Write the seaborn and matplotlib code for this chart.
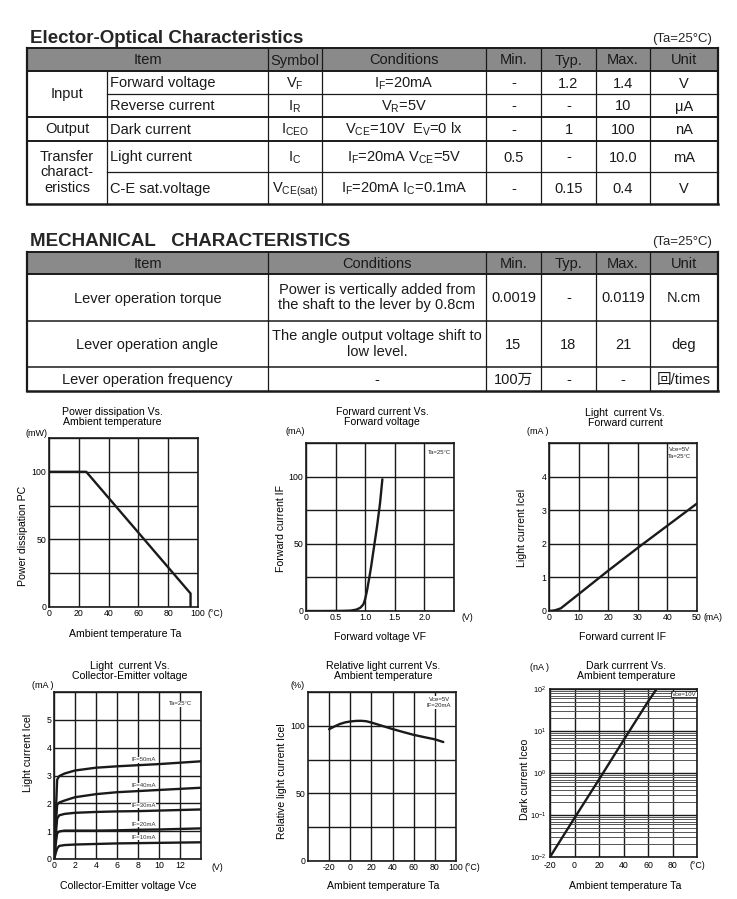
import numpy as np
import pandas as pd
import matplotlib
matplotlib.use('Agg')
import matplotlib.pyplot as plt
from matplotlib import font_manager as fm
from matplotlib.patches import Rectangle
from matplotlib.ticker import LogLocator, NullFormatter
import seaborn as sns

# ---------------- table data ----------------
eo_title = 'Elector-Optical Characteristics'
mech_title = 'MECHANICAL   CHARACTERISTICS'
ta_note = '(Ta=25°C)'

eo_header = ['Item', 'Symbol', 'Conditions', 'Min.', 'Typ.', 'Max.', 'Unit']
eo_groups = ['Input', 'Output', 'Transfer\ncharact-\neristics']
eo_group_rows = [(0, 2), (2, 3), (3, 5)]
eo_items = ['Forward voltage', 'Reverse current', 'Dark current', 'Light current', 'C-E sat.voltage']
eo_symbols = [r'V$_\mathrm{F}$', r'I$_\mathrm{R}$', r'I$_\mathrm{CEO}$', r'I$_\mathrm{C}$', r'V$_\mathrm{CE(sat)}$']
eo_conditions = [r'I$_\mathrm{F}$=20mA', r'V$_\mathrm{R}$=5V', r'V$_\mathrm{CE}$=10V  E$_\mathrm{V}$=0 lx',
                 r'I$_\mathrm{F}$=20mA V$_\mathrm{CE}$=5V', r'I$_\mathrm{F}$=20mA I$_\mathrm{C}$=0.1mA']
eo_min = ['-', '-', '-', '0.5', '-']
eo_typ = ['1.2', '-', '1', '-', '0.15']
eo_max = ['1.4', '10', '100', '10.0', '0.4']
eo_unit = ['V', 'μA', 'nA', 'mA', 'V']

mech_header = ['Item', 'Conditions', 'Min.', 'Typ.', 'Max.', 'Unit']
mech_items = ['Lever operation torque', 'Lever operation angle', 'Lever operation frequency']
mech_conditions = ['Power is vertically added from\nthe shaft to the lever by 0.8cm',
                   'The angle output voltage shift to\nlow level.', '-']
mech_min = ['0.0019', '15', '100万']
mech_typ = ['-', '18', '-']
mech_max = ['0.0119', '21', '-']
mech_unit = ['N.cm', 'deg', '回/times']

# ---------------- chart data ----------------
# 1 Power dissipation vs ambient temperature
pd_ta = [0, 25, 95, 95]
pd_pc = [100, 100, 10, 0]
pd_xticks = [0, 20, 40, 60, 80, 100]
pd_xlabels = ['0', '20', '40', '60', '80', '100']
pd_yticks = [0, 25, 50, 75, 100, 125]
pd_ylabels = ['0', '', '50', '', '100', '']

# 2 Forward current vs forward voltage
fv_vf = [0, 0.3, 0.6, 0.75, 0.85, 0.92, 0.97, 1.0, 1.03, 1.07, 1.1, 1.15, 1.2, 1.25, 1.29]
fv_if = [0, 0, 0.1, 0.3, 1.0, 2.5, 5, 9, 15, 25, 33, 48, 63, 80, 98]
fv_xticks = [0, 0.5, 1.0, 1.5, 2.0, 2.5]
fv_xlabels = ['0', '0.5', '1.0', '1.5', '2.0', '']
fv_yticks = [0, 25, 50, 75, 100, 125]
fv_ylabels = ['0', '', '50', '', '100', '']

# 3 Light current vs forward current
lf_if = [0, 2, 4, 10, 20, 30, 40, 50]
lf_ic = [0, 0.02, 0.08, 0.5, 1.2, 1.88, 2.54, 3.2]
lf_xticks = [0, 10, 20, 30, 40, 50]
lf_xlabels = ['0', '10', '20', '30', '40', '50']
lf_yticks = [0, 1, 2, 3, 4, 5]
lf_ylabels = ['0', '1', '2', '3', '4', '']

# 4 Light current vs collector-emitter voltage
vce_v = [0, 0.1, 0.2, 0.3, 0.5, 1, 2, 4, 6, 8, 10, 12, 14]
ic_if10 = [0, 0.12, 0.26, 0.38, 0.47, 0.5, 0.52, 0.54, 0.56, 0.57, 0.58, 0.59, 0.6]
ic_if20 = [0, 0.3, 0.65, 0.92, 0.99, 1.02, 1.02, 1.02, 1.03, 1.05, 1.06, 1.08, 1.1]
ic_if30 = [0, 0.45, 1.0, 1.45, 1.57, 1.62, 1.66, 1.69, 1.71, 1.72, 1.74, 1.76, 1.78]
ic_if40 = [0, 0.6, 1.4, 1.95, 2.03, 2.1, 2.22, 2.33, 2.4, 2.44, 2.48, 2.52, 2.56]
ic_if50 = [0, 0.8, 1.9, 2.85, 2.98, 3.07, 3.18, 3.28, 3.33, 3.37, 3.41, 3.46, 3.51]
if_labels = ['IF=10mA', 'IF=20mA', 'IF=30mA', 'IF=40mA', 'IF=50mA']
vc_xticks = [0, 2, 4, 6, 8, 10, 12, 14]
vc_xlabels = ['0', '2', '4', '6', '8', '10', '12', '']
vc_yticks = [0, 1, 2, 3, 4, 5, 6]
vc_ylabels = ['0', '1', '2', '3', '4', '5', '']

# 5 Relative light current vs ambient temperature
rt_ta = [-20, -15, -10, -5, 0, 5, 10, 15, 20, 30, 40, 50, 60, 70, 80, 88]
rt_rel = [97.5, 99.5, 101.3, 102.5, 103.2, 103.6, 103.7, 103.4, 102.4, 100, 97.6, 95.4, 93.3, 91.6, 90, 88]
rt_xticks = [-20, 0, 20, 40, 60, 80, 100]
rt_xlabels = ['-20', '0', '20', '40', '60', '80', '100']
rt_yticks = [0, 25, 50, 75, 100, 125]
rt_ylabels = ['0', '', '50', '', '100', '']

# 6 Dark current vs ambient temperature
dk_ta = [-20, 0, 20, 40, 60, 67]
dk_iceo = [0.01, 0.085, 0.7, 6.0, 50, 100]
dk_xticks = [-20, 0, 20, 40, 60, 80, 100]
dk_xlabels = ['-20', '0', '20', '40', '60', '80', '(°C)']
dk_yticks = [0.01, 0.1, 1, 10, 100]
dk_ylabels = [r'$\mathrm{10^{-2}}$', r'$\mathrm{10^{-1}}$', r'$\mathrm{10^{0}}$', r'$\mathrm{10^{1}}$', r'$\mathrm{10^{2}}$']

# ---------------- style ----------------
sns.set_theme(style='white')
names = {f.name for f in fm.fontManager.ttflist}
HAS_NARROW = 'Liberation Sans Narrow' in names
NARROW = 'Liberation Sans Narrow' if HAS_NARROW else 'Liberation Sans'
K = 1.0 if HAS_NARROW else 0.84
plt.rcParams['font.family'] = ['Liberation Sans', 'Noto Sans CJK SC', 'DejaVu Sans']
plt.rcParams['mathtext.fontset'] = 'custom'
plt.rcParams['mathtext.rm'] = 'Liberation Sans'
plt.rcParams['mathtext.it'] = 'Liberation Sans:italic'
plt.rcParams['mathtext.bf'] = 'Liberation Sans:bold'
plt.rcParams['mathtext.sf'] = 'Liberation Sans'
NF = [NARROW, 'DejaVu Sans']

W, H = 737, 899
fig = plt.figure(figsize=(W / 100, H / 100), dpi=100)
bg = fig.add_axes([0, 0, 1, 1])
bg.set_xlim(0, W)
bg.set_ylim(H, 0)
bg.axis('off')

HDR = '#8a8a8a'
TAB = 10.5


def hl(y, x0, x1, lw=0.9):
    bg.plot([x0, x1], [y, y], color='k', lw=lw, solid_capstyle='projecting', zorder=3)


def vl(x, y0, y1, lw=0.9):
    bg.plot([x, x], [y0, y1], color='k', lw=lw, solid_capstyle='projecting', zorder=3)


def ct(x, y, s, ha='center', size=TAB, multi=False):
    if multi:
        bg.text(x, y, s, ha=ha, va='center', fontsize=size, color='k', linespacing=1.15, zorder=4)
    else:
        bg.text(x, y + 5, s, ha=ha, va='baseline', fontsize=size, color='k', zorder=4)


# ---------- table 1 ----------
bg.text(30, 43, eo_title, fontsize=13.5, fontweight='bold', va='baseline', ha='left')
bg.text(712, 42, ta_note, fontsize=9.5, va='baseline', ha='right')
cx = [27, 107, 268, 322, 486, 541, 596, 650, 718]
ry = [48, 71, 94, 117, 141, 172, 204]
bg.add_patch(Rectangle((cx[0], ry[0]), cx[-1] - cx[0], ry[1] - ry[0], fc=HDR, ec='none', zorder=1))
ct((cx[0] + cx[2]) / 2, (ry[0] + ry[1]) / 2, eo_header[0])
for i, h in enumerate(eo_header[1:]):
    ct((cx[i + 2] + cx[i + 3]) / 2, (ry[0] + ry[1]) / 2, h)
for r in range(5):
    yc = (ry[r + 1] + ry[r + 2]) / 2
    ct(cx[1] + 3, yc, eo_items[r], ha='left')
    vals = [eo_symbols[r], eo_conditions[r], eo_min[r], eo_typ[r], eo_max[r], eo_unit[r]]
    for j, v in enumerate(vals):
        ct((cx[j + 2] + cx[j + 3]) / 2, yc, v)
for g, (a, b) in zip(eo_groups, eo_group_rows):
    ct((cx[0] + cx[1]) / 2, (ry[a + 1] + ry[b + 1]) / 2, g, multi=True)
# lines
hl(ry[0], cx[0], cx[-1], 1.4)
hl(ry[1], cx[0], cx[-1], 1.4)
hl(ry[2], cx[1], cx[-1])
hl(ry[3], cx[0], cx[-1], 1.4)
hl(ry[4], cx[0], cx[-1], 1.4)
hl(ry[5], cx[1], cx[-1])
hl(ry[6], cx[0], cx[-1], 1.8)
vl(cx[0], ry[0], ry[-1], 1.6)
vl(cx[-1], ry[0], ry[-1], 1.6)
vl(cx[1], ry[1], ry[-1])
for x in cx[2:-1]:
    vl(x, ry[0], ry[-1])

# ---------- table 2 ----------
bg.text(30, 246.5, mech_title, fontsize=13.5, fontweight='bold', va='baseline', ha='left')
bg.text(712, 245, ta_note, fontsize=9.5, va='baseline', ha='right')
mx = [27, 268, 486, 541, 596, 650, 718]
my = [252, 274, 321, 367, 391]
bg.add_patch(Rectangle((mx[0], my[0]), mx[-1] - mx[0], my[1] - my[0], fc=HDR, ec='none', zorder=1))
for i, h in enumerate(mech_header):
    ct((mx[i] + mx[i + 1]) / 2, (my[0] + my[1]) / 2, h)
for r in range(3):
    yc = (my[r + 1] + my[r + 2]) / 2
    vals = [mech_items[r], mech_conditions[r], mech_min[r], mech_typ[r], mech_max[r], mech_unit[r]]
    for j, v in enumerate(vals):
        ct((mx[j] + mx[j + 1]) / 2, yc, v, multi=('\n' in v))
hl(my[0], mx[0], mx[-1], 1.4)
hl(my[1], mx[0], mx[-1], 1.4)
hl(my[2], mx[0], mx[-1], 1.1)
hl(my[3], mx[0], mx[-1], 1.1)
hl(my[4], mx[0], mx[-1], 1.8)
vl(mx[0], my[0], my[-1], 1.6)
vl(mx[-1], my[0], my[-1], 1.6)
for x in mx[1:-1]:
    vl(x, my[0], my[-1])

# ---------------- charts ----------------
TICK = 7.5 * K
LAB = 9 * K
TIT = 9 * K
SMALL = 5.2 * K
UNIT = 6.5
TXT = '#000'


def add_ax(l, t, r, b):
    return fig.add_axes([l / W, 1 - b / H, (r - l) / W, (b - t) / H])


def style(ax, xlim, ylim, xt, xtl, yt, ytl, pad=1.8):
    ax.set_facecolor('white')
    ax.set_xlim(*xlim)
    ax.set_ylim(*ylim)
    ax.set_xticks(xt)
    ax.set_xticklabels(xtl, fontfamily=NF, fontsize=TICK, color=TXT)
    ax.set_yticks(yt)
    ax.set_yticklabels(ytl, fontfamily=NF, fontsize=TICK, color=TXT)
    ax.grid(True, which='major', color='k', lw=1.0)
    ax.tick_params(which='both', length=0, pad=pad)
    for s in ax.spines.values():
        s.set_visible(True)
        s.set_color('k')
        s.set_linewidth(1.2)
    ax.set_xlabel('')
    ax.set_ylabel('')
    ax.set_axisbelow(True)


def ptext(x, y, s, size, rot=0, ha='center', ls=1.1):
    bg.text(x, y, s, fontsize=size, fontfamily=NF, rotation=rot, ha=ha, va='center',
            linespacing=ls, color=TXT)


LINE = dict(color='k', linewidth=1.7, estimator=None, sort=False)

# chart 1
ax1 = add_ax(49, 438, 198, 607)
sns.lineplot(x=pd_ta, y=pd_pc, ax=ax1, **LINE)
style(ax1, (0, 100), (0, 125), pd_xticks, pd_xlabels, pd_yticks, pd_ylabels)
ptext(112, 417, 'Power dissipation Vs.\nAmbient temperature', TIT)
ptext(37, 433, '(mW)', UNIT)
ptext(215, 613, '(°C)', TICK)
ptext(23, 536, 'Power dissipation PC', LAB, rot=90)
ptext(125, 634, 'Ambient temperature Ta', LAB)

# chart 2
ax2 = add_ax(306, 443, 454, 611)
sns.lineplot(x=fv_vf, y=fv_if, ax=ax2, **LINE)
style(ax2, (0, 2.5), (0, 125), fv_xticks, fv_xlabels, fv_yticks, fv_ylabels)
ax2.text(0.905, 0.946, 'Ta=25°C', transform=ax2.transAxes, fontsize=SMALL, fontfamily=NF,
         ha='center', va='center', color='#222')
ptext(382, 417, 'Forward current Vs.\nForward voltage', TIT)
ptext(295, 432, '(mA)', UNIT)
ptext(467, 617, '(V)', TICK)
ptext(281, 528, 'Forward current IF', LAB, rot=90)
ptext(380, 637, 'Forward voltage VF', LAB)

# chart 3
ax3 = add_ax(549, 443, 697, 611)
sns.lineplot(x=lf_if, y=lf_ic, ax=ax3, **LINE)
style(ax3, (0, 50), (0, 5), lf_xticks, lf_xlabels, lf_yticks, lf_ylabels)
ax3.text(0.885, 0.94, 'Vce=5V\nTa=25°C', transform=ax3.transAxes, fontsize=SMALL, fontfamily=NF,
         ha='center', va='center', color='#222', linespacing=1.3)
ptext(625, 418, 'Light  current Vs.\nForward current', TIT)
ptext(538, 432, '(mA )', UNIT)
ptext(713, 617, '(mA)', TICK)
ptext(522, 528, 'Light current Icel', LAB, rot=90)
ptext(623, 637, 'Forward current IF', LAB)

# chart 4
ax4 = add_ax(54, 692, 201, 859)
curves = [ic_if10, ic_if20, ic_if30, ic_if40, ic_if50]
df4 = pd.DataFrame({
    'Vce': np.tile(vce_v, len(curves)),
    'Ic': np.concatenate(curves),
    'IF': np.repeat(if_labels, len(vce_v)),
})
sns.lineplot(data=df4, x='Vce', y='Ic', hue='IF', palette=['k'] * len(curves), legend=False,
             ax=ax4, linewidth=1.7, estimator=None, sort=False)
style(ax4, (0, 14), (0, 6), vc_xticks, vc_xlabels, vc_yticks, vc_ylabels)
for lab, c in zip(if_labels, curves):
    ax4.text(8.5, c[vce_v.index(8)] + 0.2, lab, fontsize=SMALL, fontfamily=NF, ha='center',
             va='center', color='#333',
             bbox=dict(fc='white', ec='none', pad=0.3))
ax4.text(12, 5.57, 'Ta=25°C', fontsize=SMALL, fontfamily=NF, ha='center', va='center', color='#222',
         bbox=dict(fc='white', ec='none', pad=0.6))
ptext(130, 671, 'Light  current Vs.\nCollector-Emitter voltage', TIT)
ptext(43, 686, '(mA )', UNIT)
ptext(217, 867, '(V)', TICK)
ptext(28, 753, 'Light current Icel', LAB, rot=90)
ptext(128, 886, 'Collector-Emitter voltage Vce', LAB)

# chart 5
ax5 = add_ax(308, 692, 456, 861)
sns.lineplot(x=rt_ta, y=rt_rel, ax=ax5, **LINE)
style(ax5, (-40, 100), (0, 125), rt_xticks, rt_xlabels, rt_yticks, rt_ylabels)
ax5.text(84, 117, 'Vce=5V\nIF=20mA', fontsize=SMALL, fontfamily=NF, ha='center', va='center',
         color='#222', linespacing=1.3, bbox=dict(fc='white', ec='none', pad=0.6))
ptext(383, 671, 'Relative light current Vs.\nAmbient temperature', TIT)
ptext(298, 686, '(%)', UNIT)
ptext(472, 867, '(°C)', TICK)
ptext(282, 781, 'Relative light current Icel', LAB, rot=90)
ptext(383, 886, 'Ambient temperature Ta', LAB)

# chart 6
ax6 = add_ax(550, 689, 697, 857)
ax6.set_yscale('log')
sns.lineplot(x=dk_ta, y=dk_iceo, ax=ax6, **LINE)
style(ax6, (-20, 100), (0.01, 100), dk_xticks, dk_xlabels, dk_yticks, dk_ylabels, pad=3)
ax6.set_yticklabels(dk_ylabels, fontsize=TICK * 0.85, color=TXT)
ax6.yaxis.set_minor_locator(LogLocator(base=10, subs=np.arange(2, 10)))
ax6.yaxis.set_minor_formatter(NullFormatter())
ax6.grid(True, which='minor', axis='y', color='#555', lw=0.7)
ax6.text(0.995, 0.985, 'Vce=10V', transform=ax6.transAxes, fontsize=SMALL, fontfamily=NF,
         ha='right', va='top', color='#222', bbox=dict(fc='white', ec='k', lw=0.6, pad=0.6))
ptext(626, 671, 'Dark currrent Vs.\nAmbient temperature', TIT)
ptext(540, 668, '(nA )', UNIT)
ptext(525, 779, 'Dark current Iceo', LAB, rot=90)
ptext(625, 886, 'Ambient temperature Ta', LAB)

fig.savefig('out.png', dpi=100)
